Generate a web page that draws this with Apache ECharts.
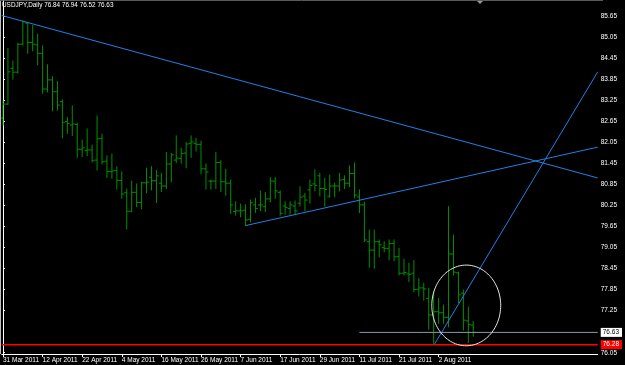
<!DOCTYPE html>
<html><head><meta charset="utf-8">
<script src="https://cdn.jsdelivr.net/npm/echarts@6/dist/echarts.min.js"></script>
<style>html,body{margin:0;padding:0;background:#000;}#c{width:625px;height:365px;}</style>
</head><body><div id="c"></div>
<script>
const symbol = 'USDJPY', timeframe = 'Daily';
const opens  = [82.75,83.15,84.17,84.06,84.86,85.46,84.91,84.84,84.60,83.58,83.84,83.50,83.22,82.65,82.55,82.57,81.86,81.82,81.84,81.55,
  82.17,81.52,81.22,81.25,80.97,80.62,80.09,80.63,80.34,80.90,81.06,80.96,80.89,80.81,81.44,81.55,81.60,81.75,82.03,82.03,
  82.00,81.30,80.95,80.95,81.48,80.93,80.89,80.08,80.10,80.12,79.86,80.27,80.27,80.22,80.44,80.95,80.63,80.24,80.17,80.24,
  80.32,80.52,80.70,80.87,81.10,80.74,80.52,80.81,80.81,81.00,80.89,81.17,80.50,80.27,79.22,78.98,79.22,79.05,79.03,79.17,
  78.79,78.32,78.30,78.32,77.86,77.90,77.60,77.13,77.22,77.19,77.06,78.87,78.33,77.75,76.96,76.84];
const highs  = [83.24,84.74,84.38,84.88,85.52,85.48,85.39,85.14,84.81,84.27,83.93,83.79,83.27,82.77,83.10,82.60,82.12,82.44,81.98,82.81,
  82.29,81.67,81.72,81.36,81.21,80.72,80.95,80.87,80.92,81.32,81.36,81.26,81.17,81.77,81.74,82.24,81.89,82.05,82.24,82.17,
  82.09,81.44,80.98,81.77,81.53,81.29,80.98,80.36,80.29,80.27,80.41,80.46,80.67,80.62,81.05,81.05,80.67,80.36,80.36,80.38,
  80.79,80.60,80.98,81.27,81.17,81.03,81.12,80.89,81.17,81.10,81.38,81.47,80.70,80.35,79.55,79.55,79.27,79.22,79.27,79.27,
  79.03,78.72,78.60,78.68,78.17,78.03,77.89,77.79,77.60,77.41,80.22,79.41,78.35,77.84,77.35,76.94];
const lows   = [82.55,83.14,83.86,84.04,84.84,84.60,84.67,84.27,83.46,83.50,82.96,82.98,82.19,82.31,82.25,81.63,81.65,81.68,81.50,81.27,
  81.44,81.05,81.03,80.72,80.46,79.58,80.08,80.22,80.16,80.62,80.70,80.34,80.65,80.74,80.93,81.48,81.46,81.33,81.63,81.81,
  81.17,80.72,80.72,80.74,80.65,80.55,80.03,79.98,79.93,79.68,79.79,80.06,80.10,80.08,80.36,80.46,79.98,80.01,80.01,80.00,
  80.24,80.10,80.32,80.67,80.53,80.24,80.49,80.50,80.67,80.74,80.79,80.47,80.05,79.22,78.49,78.46,78.79,78.93,78.70,78.68,
  78.27,78.27,78.08,77.79,77.67,77.55,76.72,76.30,76.89,76.89,76.79,78.27,77.48,76.70,76.34,76.52];
const closes = [83.15,84.07,84.06,84.86,85.50,84.91,84.86,84.60,83.58,83.84,83.50,83.12,82.63,82.60,82.58,81.86,81.90,81.84,81.53,82.16,
  81.50,81.22,81.24,80.97,80.58,80.09,80.63,80.34,80.90,80.92,80.96,81.10,80.81,81.44,81.70,81.61,81.74,82.01,82.07,82.00,
  81.30,81.21,80.95,81.48,80.93,80.89,80.27,80.10,80.10,79.84,80.33,80.17,80.27,80.44,80.95,80.67,80.03,80.20,80.27,80.10,
  80.49,80.41,80.83,80.83,80.74,80.71,80.81,80.81,80.98,80.89,81.17,80.55,80.27,79.27,78.98,79.22,79.13,79.03,79.17,78.79,
  78.32,78.34,78.29,77.86,77.90,77.87,77.13,77.22,77.19,77.06,78.87,78.35,77.70,76.98,76.85,76.63];

const dateTickIndex  = [0,8,16,24,32,40,48,56,64,72,80,88];
const dateTickLabels = ['31 Mar 2011','12 Apr 2011','22 Apr 2011','4 May 2011','16 May 2011','26 May 2011',
  '7 Jun 2011','17 Jun 2011','29 Jun 2011','11 Jul 2011','21 Jul 2011','2 Aug 2011'];
const priceTicks = [85.65,85.05,84.45,83.85,83.25,82.65,82.05,81.45,80.85,80.25,79.65,79.05,78.45,77.85,77.25,76.05];
const bidPrice = 76.63;
const supportPrice = 76.28;

const descTrend   = [[-0.26,85.68],[120.14,81.04]];
const riseTrend   = [[49,79.68],[120.14,81.92]];
const steepTrend  = [[87.2,76.30],[120.14,84.07]];
const bidLine     = [[72,bidPrice],[120.14,bidPrice]];
const supportLine = [[-0.26,supportPrice],[120.14,supportPrice]];
const ellipseData = [[93.58,77.40,6.96,1.152]]; // centre index, centre price, half-width (bars), half-height (price)

const xMin = -0.26, xMax = 120.14, yMin = 76.013, yMax = 86.093;

const FONT = "'Liberation Sans',Arial,sans-serif";
const FS = 6.5;
const BAR = '#009000', BLUE = '#1e82e6';

const ohlc = opens.map((o,i)=>[i,o,highs[i],lows[i],closes[i]]);
const last = ohlc[ohlc.length-1];
const header = symbol + ',' + timeframe + ' ' + [last[1],last[2],last[3],last[4]].map(v=>v.toFixed(2)).join(' ');

function renderBar(params, api){
  const i = api.value(0);
  const pO = api.coord([i, api.value(1)]);
  const pH = api.coord([i, api.value(2)]);
  const pL = api.coord([i, api.value(3)]);
  const pC = api.coord([i, api.value(4)]);
  const w = api.size([0.5,0])[0];
  const st = {stroke: BAR, lineWidth: 1};
  return {type:'group', children:[
    {type:'line', shape:{x1:pH[0],y1:pH[1]-0.5,x2:pL[0],y2:pL[1]+0.5}, style:st},
    {type:'line', shape:{x1:pO[0]-w,y1:pO[1],x2:pO[0],y2:pO[1]}, style:st},
    {type:'line', shape:{x1:pC[0],y1:pC[1],x2:pC[0]+w,y2:pC[1]}, style:st}
  ]};
}
function renderEllipse(params, api){
  const c = api.coord([api.value(0), api.value(1)]);
  const rx = api.size([api.value(2),0])[0];
  const ry = api.size([0,api.value(3)])[1];
  const pts = [];
  for (let k=0;k<120;k++){ const a = k/120*Math.PI*2; pts.push([c[0]+rx*Math.cos(a), c[1]+ry*Math.sin(a)]); }
  return {type:'polygon', shape:{points:pts}, style:{fill:null, stroke:'#e6e6e6', lineWidth:1}};
}
function lineSeries(data, color, width){
  return {type:'line', data:data, symbol:'none', clip:true, silent:true, animation:false,
    lineStyle:{color:color, width:width||1}, z:5};
}

const chart = echarts.init(document.getElementById('c'), null, {renderer:'canvas'});
chart.setOption({
  backgroundColor:'#000',
  animation:false,
  title:{text:header, left:2, top:2, padding:0, textStyle:{color:'#fff', fontSize:6.4, fontWeight:'normal', fontFamily:FONT}},
  grid:{left:0, right:23, top:1, bottom:11, show:false},
  xAxis:{type:'value', min:xMin, max:xMax, position:'bottom',
    axisLine:{show:true, lineStyle:{color:'#fff', width:1}},
    axisTick:{show:true, customValues:dateTickIndex, length:3, lineStyle:{color:'#fff'}},
    axisLabel:{show:true, customValues:dateTickIndex, showMinLabel:true, showMaxLabel:true,
      formatter:v=>dateTickLabels[dateTickIndex.indexOf(Math.round(v))]||'',
      color:'#fff', fontSize:FS, fontFamily:FONT, align:'left', margin:3},
    splitLine:{show:false}},
  yAxis:{type:'value', min:yMin, max:yMax, position:'right',
    axisLine:{show:true, lineStyle:{color:'#fff', width:1}},
    axisTick:{show:true, customValues:priceTicks, length:2, lineStyle:{color:'#fff'}},
    axisLabel:{show:true, customValues:priceTicks.concat([bidPrice, supportPrice]), showMinLabel:true, showMaxLabel:true,
      formatter:v=>{
        if (Math.abs(v-bidPrice)<1e-6) return '{bid|'+v.toFixed(2)+'}';
        if (Math.abs(v-supportPrice)<1e-6) return '{sup|'+v.toFixed(2)+'}';
        return v.toFixed(2);
      },
      rich:{bid:{backgroundColor:'#fff', color:'#000', fontSize:FS, fontFamily:FONT, padding:[1,3,1,2]},
            sup:{backgroundColor:'#f00', color:'#fff', fontSize:FS, fontFamily:FONT, padding:[1,3,1,2]}},
      color:'#fff', fontSize:FS, fontFamily:FONT, margin:3},
    splitLine:{show:false}},
  graphic:[
    {type:'line', shape:{x1:0,y1:0.5,x2:603,y2:0.5}, style:{stroke:'#5a5a5a', lineWidth:1}},
    {type:'line', shape:{x1:0.5,y1:1,x2:0.5,y2:354}, style:{stroke:'#bdbdbd', lineWidth:1}},
    {type:'polygon', shape:{points:[[477,1],[483,1],[480,4]]}, style:{fill:'#8a9aaa'}}
  ],
  series:[
    {type:'custom', renderItem:renderBar, data:ohlc, encode:{x:0, y:[1,2,3,4]}, clip:true, silent:true, animation:false, z:2},
    lineSeries(supportLine, '#ff0000', 1.5),
    lineSeries(bidLine, '#8a9aab', 1),
    lineSeries(descTrend, BLUE, 1),
    lineSeries(riseTrend, BLUE, 1),
    lineSeries(steepTrend, BLUE, 1),
    {type:'custom', renderItem:renderEllipse, data:ellipseData, encode:{x:0, y:1}, clip:true, silent:true, animation:false, z:6}
  ]
});
</script></body></html>
